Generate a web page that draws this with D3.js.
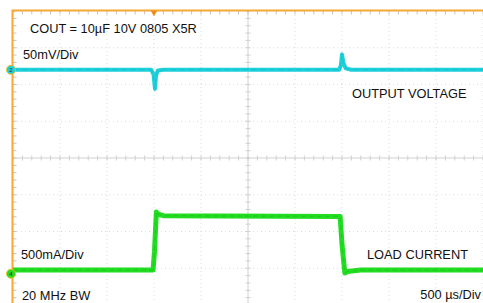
<!DOCTYPE html>
<html>
<head>
<meta charset="utf-8">
<script src="https://cdn.jsdelivr.net/npm/d3@7"></script>
<style>
  body { margin: 0; background: #fff; }
  text { font-family: Arial, "Liberation Sans", sans-serif; }
</style>
</head>
<body>
<div id="chart"></div>
<script>
// scope: 10 horizontal divisions of 500 us, 8 vertical divisions
const timeDomain = [0, 5000];          // µs
const divDomain = [-4, 4];

// channel 2: output voltage deviation (mV), 50 mV/div
const voltageOffsetDiv = 2.4;
const voltageTrace = [
    [0, 0], [1470, 0], [1495, -6], [1510, -26], [1522, -8], [1540, -1], [1600, 0],
    [3470, 0], [3488, 6], [3500, 21], [3515, 9], [3540, 2], [3600, 0], [5000, 0]
];

// channel 4: load current (A), 500 mA/div
const currentOffsetDiv = -3.15;
const currentTrace = [
    [0, 0.05], [1490, 0.05], [1505, 0.3], [1525, 0.84], [1545, 0.81], [1600, 0.79],
    [3480, 0.78], [3500, 0.4], [3530, 0.01], [3560, 0.03], [3700, 0.05], [5000, 0.05]
];

const labels = [
    { text: "COUT = 10\u00b5F 10V 0805 X5R", x: 30, y: 33, anchor: "start" },
    { text: "50mV/Div", x: 23, y: 59, anchor: "start" },
    { text: "OUTPUT VOLTAGE", x: 352, y: 98, anchor: "start" },
    { text: "500mA/Div", x: 21, y: 259, anchor: "start" },
    { text: "LOAD CURRENT", x: 367, y: 259, anchor: "start" },
    { text: "20 MHz BW", x: 22, y: 300, anchor: "start" },
    { text: "500 \u00b5s/Div", x: 481, y: 299, anchor: "end" }
];

const width = 483, height = 303;
const svg = d3.select("#chart").append("svg").attr("width", width).attr("height", height);

const x = d3.scaleLinear().domain(timeDomain).range([13, 483]);
const y = d3.scaleLinear().domain(divDomain).range([305, 11]);

const gridColor = "#dcdcdc";
const grid = svg.append("g").attr("class", "grid");
const xDivs = d3.range(0, 5001, 500);
const yDivs = d3.range(-4, 5, 1);

grid.selectAll("line.v").data(xDivs.filter(d => d !== 2500 && d !== 0)).enter().append("line")
    .attr("x1", d => x(d)).attr("x2", d => x(d))
    .attr("y1", y(4)).attr("y2", y(-4))
    .attr("stroke", gridColor).attr("stroke-dasharray", "1,3");
grid.selectAll("line.h").data(yDivs.filter(d => d !== 0 && d !== 4)).enter().append("line")
    .attr("x1", x(0)).attr("x2", x(5000))
    .attr("y1", d => y(d)).attr("y2", d => y(d))
    .attr("stroke", gridColor).attr("stroke-dasharray", "1,3");

// centre axes with minor ticks
grid.append("line").attr("x1", x(0)).attr("x2", x(5000)).attr("y1", y(0)).attr("y2", y(0))
    .attr("stroke", "#d0d0d0");
grid.append("line").attr("x1", x(2500)).attr("x2", x(2500)).attr("y1", y(4)).attr("y2", y(-4))
    .attr("stroke", "#d0d0d0");
grid.selectAll("line.tx").data(d3.range(0, 5001, 100)).enter().append("line")
    .attr("x1", d => x(d)).attr("x2", d => x(d))
    .attr("y1", y(0) - 2.5).attr("y2", y(0) + 2.5)
    .attr("stroke", "#d0d0d0");
grid.selectAll("line.ty").data(d3.range(-4, 4.01, 0.2)).enter().append("line")
    .attr("x1", x(2500) - 2.5).attr("x2", x(2500) + 2.5)
    .attr("y1", d => y(d)).attr("y2", d => y(d))
    .attr("stroke", "#d0d0d0");

// frame ticks on left and top edges
grid.selectAll("line.ly").data(d3.range(-4, 4.01, 0.2)).enter().append("line")
    .attr("x1", x(0)).attr("x2", x(0) + 3.5)
    .attr("y1", d => y(d)).attr("y2", d => y(d))
    .attr("stroke", "#c4c4c4");
grid.selectAll("line.tt").data(d3.range(0, 5001, 100)).enter().append("line")
    .attr("x1", d => x(d)).attr("x2", d => x(d))
    .attr("y1", y(4)).attr("y2", y(4) + 3.5)
    .attr("stroke", "#c4c4c4");

// orange frame (top and left)
svg.append("line").attr("x1", x(0)).attr("x2", width).attr("y1", y(4) - 0.5).attr("y2", y(4) - 0.5)
    .attr("stroke", "#f5a833").attr("stroke-width", 2);
svg.append("line").attr("x1", x(0) - 0.5).attr("x2", x(0) - 0.5).attr("y1", y(4) - 1.5).attr("y2", height)
    .attr("stroke", "#f5a833").attr("stroke-width", 2);

// trigger marker
svg.append("path")
    .attr("d", d3.symbol().type(d3.symbolTriangle).size(18))
    .attr("transform", `translate(${x(1500)},${y(4) + 1.5}) rotate(180)`)
    .attr("fill", "#f08a1c");

const vLine = d3.line()
    .x(d => x(d[0]))
    .y(d => y(voltageOffsetDiv + d[1] / 50));
const iLine = d3.line()
    .x(d => x(d[0]))
    .y(d => y(currentOffsetDiv + d[1] / 0.5));

svg.append("path").datum(voltageTrace).attr("d", vLine)
    .attr("fill", "none").attr("stroke", "#1ed0da").attr("stroke-width", 4)
    .attr("stroke-linejoin", "round");
svg.append("path").datum(voltageTrace).attr("d", vLine)
    .attr("fill", "none").attr("stroke", "#10b8c4").attr("stroke-width", 0.8)
    .attr("stroke-dasharray", "6,3").attr("opacity", 0.6);

svg.append("path").datum(currentTrace).attr("d", iLine)
    .attr("fill", "none").attr("stroke", "#22dd22").attr("stroke-width", 5)
    .attr("stroke-linejoin", "round");
svg.append("path").datum(currentTrace).attr("d", iLine)
    .attr("fill", "none").attr("stroke", "#14b814").attr("stroke-width", 0.8)
    .attr("stroke-dasharray", "5,3").attr("opacity", 0.6);

// channel markers
const markers = [
    { label: "2", div: voltageOffsetDiv, color: "#1ed0da" },
    { label: "4", div: currentOffsetDiv, color: "#22dd22" }
];
const mk = svg.selectAll("g.marker").data(markers).enter().append("g")
    .attr("transform", d => `translate(${x(0) - 2},${y(d.div)})`);
mk.append("circle").attr("r", 4.5).attr("fill", d => d.color)
    .attr("stroke", "#e8c020").attr("stroke-width", 1);
mk.append("text").text(d => d.label).attr("text-anchor", "middle").attr("dy", "0.35em")
    .attr("font-size", "6px").attr("fill", "#333");

svg.selectAll("text.lbl").data(labels).enter().append("text")
    .attr("x", d => d.x).attr("y", d => d.y)
    .attr("text-anchor", d => d.anchor)
    .attr("font-size", "12.8px").attr("fill", "#111")
    .text(d => d.text);
</script>
</body>
</html>
